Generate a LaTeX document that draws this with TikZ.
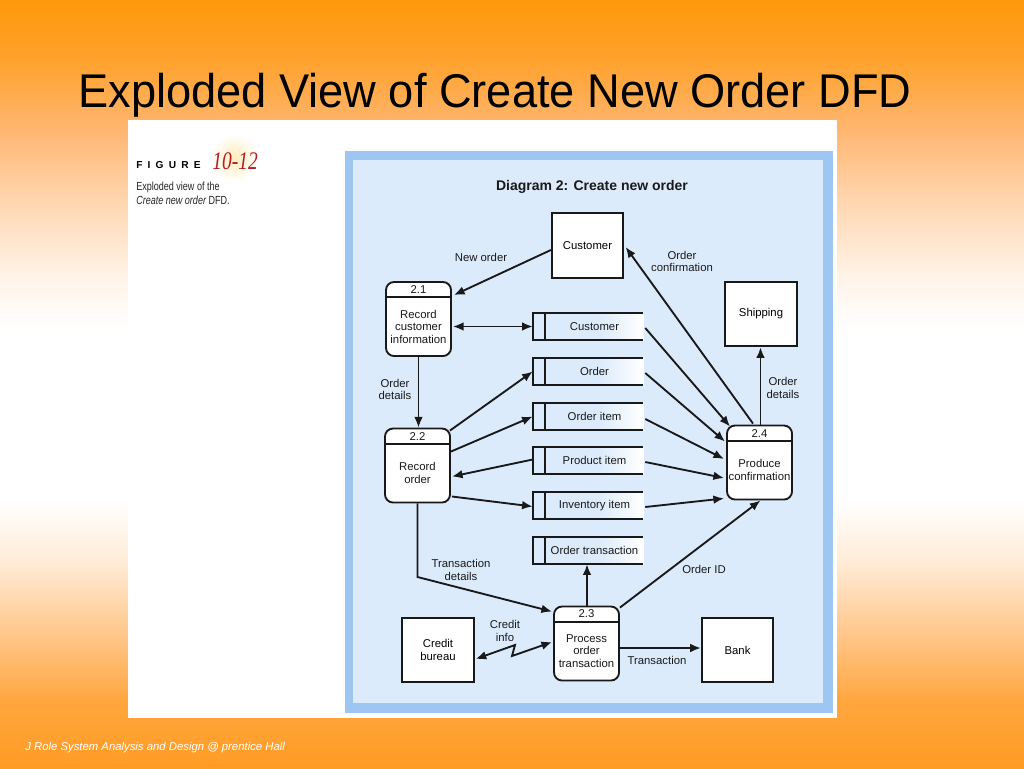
\documentclass[tikz,border=0pt]{standalone}
\usepackage{fontspec}
\usepackage{graphicx}
\setmainfont{Liberation Sans}
\newfontfamily\serifit{Liberation Serif}
\usetikzlibrary{arrows.meta,calc}
\definecolor{bgblue}{RGB}{220,235,252}
\definecolor{brdblue}{RGB}{157,198,242}
\definecolor{figred}{RGB}{178,30,40}
\definecolor{orA}{RGB}{255,153,10}
\definecolor{orB}{RGB}{255,162,45}
\definecolor{orC}{RGB}{255,182,112}
\definecolor{orD}{RGB}{255,214,175}
\definecolor{orE}{RGB}{255,244,234}
\definecolor{orF}{RGB}{255,236,216}
\definecolor{orG}{RGB}{255,196,132}
\definecolor{orH}{RGB}{255,166,62}
\definecolor{orI}{RGB}{255,156,36}
\definecolor{glow}{RGB}{255,236,185}
\definecolor{ink}{RGB}{25,25,25}
\pgfdeclarehorizontalshading{storefade}{100bp}{color(0bp)=(bgblue); color(25bp)=(bgblue); color(55bp)=(bgblue); color(75bp)=(white); color(100bp)=(white)}
\newcommand\lblfont{\fontsize{8.5}{9.4}\selectfont}
\newcommand\lsp{\hspace{3.9pt}}
\tikzset{
  ent/.style={draw=ink, fill=white, line width=1.4pt, minimum width=53.5pt, minimum height=48.5pt, inner sep=0pt, font=\lblfont, align=center},
  proc/.style={draw=ink, fill=white, rounded corners=6pt, line width=1.4pt, minimum width=48.75pt, minimum height=55.5pt, inner sep=0pt},
  storebox/.style={minimum width=82.5pt, minimum height=20.25pt, inner sep=0pt},
  flow/.style={draw=ink, line width=1.4pt, -{Latex[length=8pt,width=6.5pt]}},
  biflow/.style={draw=ink, line width=1.4pt, {Latex[length=8pt,width=6.5pt]}-{Latex[length=8pt,width=6.5pt]}},
  lbl/.style={font=\lblfont, align=center, inner sep=0pt, text=ink},
  edge/.style={draw=ink, line width=1.4pt},
}
\begin{document}
\begin{tikzpicture}[x=0.75pt,y=-0.75pt]
\useasboundingbox (0,0) rectangle (1024,768);
% background gradient
\shade[top color=orA, bottom color=orB] (0,0) rectangle (1024,60);
\shade[top color=orB, bottom color=orC] (0,60) rectangle (1024,130);
\shade[top color=orC, bottom color=orD] (0,130) rectangle (1024,200);
\shade[top color=orD, bottom color=orE] (0,200) rectangle (1024,280);
\shade[top color=orE, bottom color=white] (0,280) rectangle (1024,330);
\fill[white] (0,330) rectangle (1024,500);
\shade[top color=white, bottom color=orF] (0,500) rectangle (1024,560);
\shade[top color=orF, bottom color=orG] (0,560) rectangle (1024,640);
\shade[top color=orG, bottom color=orH] (0,640) rectangle (1024,700);
\shade[top color=orH, bottom color=orI] (0,700) rectangle (1024,768);
% title
\node[anchor=base west, inner sep=0pt] (title) at (78,107) {\fontsize{35.5}{40}\selectfont\scalebox{0.955}[1]{Exploded View of Create New Order DFD}};
% white panel
\fill[white] (128,120) rectangle (837,718);
% caption
\shade[inner color=glow, outer color=white] (234,158) circle (24);
\node[anchor=base west, inner sep=0pt] (figword) at (136,168.5) {\fontsize{7.6}{9}\selectfont\bfseries F\lsp I\lsp G\lsp U\lsp R\lsp E};
\node[anchor=base west, inner sep=0pt, text=figred] (fignum) at (212,169) {\fontsize{19}{22}\selectfont\serifit\itshape\scalebox{0.77}[1]{10-12}};
\node[anchor=base west, inner sep=0pt, text=black!85] (cap1) at (136,190) {\fontsize{8.8}{10}\selectfont\scalebox{0.77}[1]{Exploded view of the}};
\node[anchor=base west, inner sep=0pt, text=black!85] (cap2) at (136,204) {\fontsize{8.8}{10}\selectfont\scalebox{0.77}[1]{\itshape Create new order\upshape{} DFD.}};
% blue panel
\fill[brdblue] (345,151) rectangle (833,713);
\fill[bgblue] (353,160) rectangle (823,703);
\node[anchor=base, inner sep=0pt, text=ink] (dtitle) at (592,190) {\fontsize{10.5}{12}\selectfont\bfseries Diagram 2: Create new order};
% external entities
\node[ent] (cust) at (587.5,245.5) {Customer};
\node[ent] (ship) at (761,314) {Shipping};
\node[ent] (credit) at (438,650) {Credit\\bureau};
\node[ent] (bank) at (737.5,650) {Bank};
% processes
\node[proc] (p21) at (418.5,319) {};
\node[proc] (p22) at (417.5,465.5) {};
\node[proc] (p23) at (586.5,643.5) {};
\node[proc] (p24) at (759.5,462.5) {};
\foreach \p/\num/\txt in {p21/2.1/{Record\\customer\\information}, p22/2.2/{Record\\order}, p23/2.3/{Process\\order\\transaction}, p24/2.4/{Produce\\confirmation}}{
  \draw[edge] ($(\p.north west)+(0,16)$) -- ($(\p.north east)+(0,16)$);
  \node[lbl] (\p num) at ($(\p.north)+(0,8.5)$) {\num};
  \node[lbl] (\p txt) at ($(\p.center)+(0,7.5)$) {\txt};
}
% data stores
\foreach \s/\yy/\txt in {sCust/326.5/Customer, sOrd/371.5/Order, sItem/416.5/Order item, sProd/460.5/Product item, sInv/505.5/Inventory item, sTrans/550.5/Order transaction}{
  \node[storebox] (\s) at (588,\yy) {};
  \shade[shading=storefade] (\s.north west) rectangle (\s.south east);
  \draw[edge] (\s.north east) -- (\s.north west) -- (\s.south west) -- (\s.south east);
  \draw[edge] ($(\s.north west)+(12.5,0)$) -- ($(\s.south west)+(12.5,0)$);
  \node[lbl] (\s txt) at ($(\s.center)+(6.5,0)$) {\txt};
}
% helper coordinates
\coordinate (p23top) at ($(p23.north)+(0.5,0)$);
\coordinate (p24top) at ($(p24.north)+(1,0)$);
% flows
\draw[flow] ($(cust.west)+(0,4.5)$) -- ($(p21.north east)+(2,14)$);
\node[lbl] (lNew) at (481,257) {New order};
\draw[biflow] ($(p21.east)+(1,7.5)$) -- (sCust.west);
\draw[flow] (p21.south) -- (p21.south |- p22.north);
\node[lbl] (lOD1) at (395,389.5) {Order\\details};
\draw[flow] ($(p22.north east)+(-1,3)$) -- (sOrd.west);
\draw[flow] ($(p22.north east)+(0,24)$) -- (sItem.west);
\draw[flow] ($(sProd.west)+(0,-1)$) -- ($(p22.east)+(1,11)$);
\draw[flow] ($(p22.east)+(1,31)$) -- ($(sInv.west)+(0,1)$);
\coordinate (bend22) at (417.5,577);
\draw[flow] (p22.south) -- (bend22) -- ($(p23.north west)+(-1,6)$);
\node[lbl] (lTD) at (461,570) {Transaction\\details};
\draw[flow] (p23top) -- (p23top |- sTrans.south);
\draw[flow] ($(p23.north east)+(0,2)$) -- ($(p24.south)+(1,0)$);
\node[lbl] (lOID) at (704,569) {Order ID};
\draw[flow] ($(p23.east)+(0,4.5)$) -- ($(bank.west)+(0,-2)$);
\node[lbl] (lTr) at (657,660) {Transaction};
\coordinate (zz1) at (515,645);
\coordinate (zz2) at (512,656);
\draw[biflow] ($(credit.east)+(1,9)$) -- (zz1) -- (zz2) -- ($(p23.west)+(-1,-1.5)$);
\node[lbl] (lCI) at (505,631) {Credit\\info};
\draw[flow] ($(sCust.east)+(2,1.5)$) -- ($(p24.north west)+(4,2)$);
\draw[flow] ($(sOrd.east)+(2,1.5)$) -- ($(p24.north west)+(-1,17)$);
\draw[flow] ($(sItem.east)+(2,2.5)$) -- ($(p24.west)+(-2,-3.5)$);
\draw[flow] ($(sProd.east)+(2,1.5)$) -- ($(p24.west)+(-2,15.5)$);
\draw[flow] ($(sInv.east)+(2,1.5)$) -- ($(p24.south west)+(-2,-2)$);
\draw[flow] ($(p24.north)+(-6.5,-1)$) -- ($(cust.east)+(1.5,1.5)$);
\node[lbl] (lOC) at (682,261.5) {Order\\confirmation};
\draw[flow] (p24top) -- (p24top |- ship.south);
\node[lbl] (lOD2) at (783,388) {Order\\details};
% footer
\node[anchor=base west, inner sep=0pt, text=white] (footer) at (25,750) {\fontsize{8.5}{10}\selectfont\itshape J Role System Analysis and Design @ prentice Hall};
\end{tikzpicture}
\end{document}
